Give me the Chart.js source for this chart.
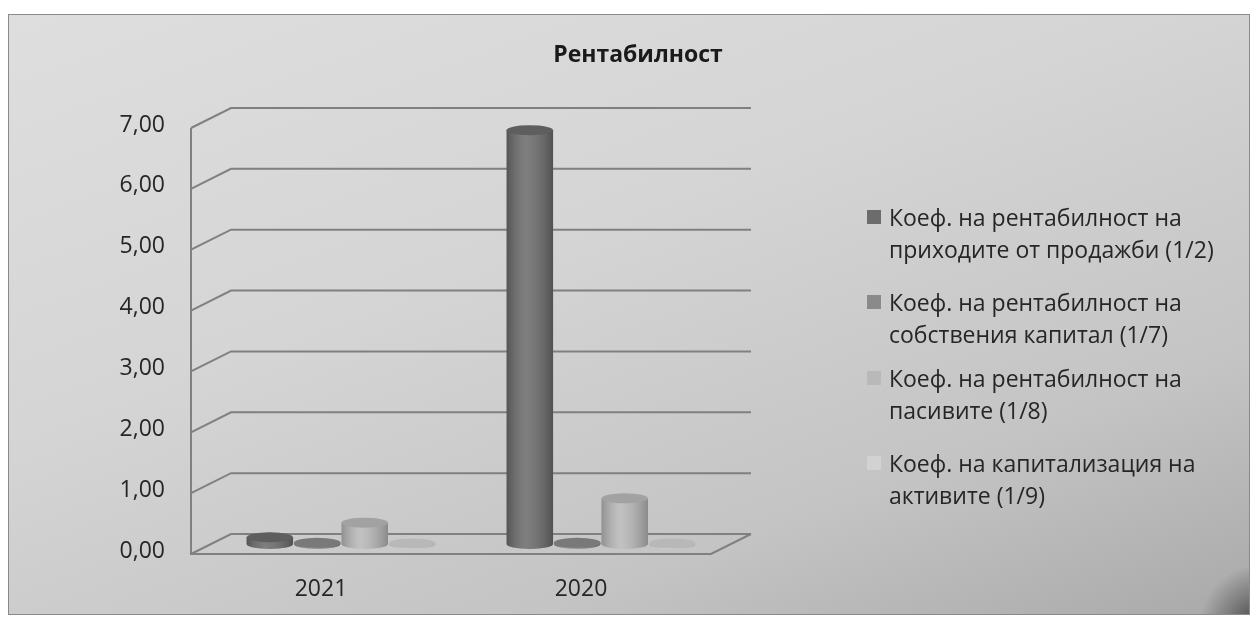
<!DOCTYPE html>
<html lang="bg">
<head>
  <meta charset="UTF-8">
  <title>Рентабилност</title>
  <script src="https://cdn.jsdelivr.net/npm/chart.js"></script>
  <style>
    html, body { margin: 0; padding: 0; background: #fff; }
    body { width: 1254px; height: 621px; position: relative; overflow: hidden; font-family: 'Open Sans', sans-serif; }
    #frame {
      position: absolute; left: 8px; top: 14px; width: 1240px; height: 599px;
      border: 1px solid #8a8a8a;
      background: linear-gradient(160deg, #dedede 0%, #d5d5d5 40%, #c4c4c4 75%, #a9a9a9 100%);
      overflow: hidden;
    }
    #frame::after {
      content: ''; position: absolute; right: -40px; bottom: -40px; width: 90px; height: 90px;
      background: radial-gradient(circle at 70% 70%, rgba(40,40,40,0.85) 0%, rgba(60,60,60,0.4) 40%, rgba(0,0,0,0) 70%);
    }
    #chart { position: absolute; left: 0; top: 0; }
    #title {
      position: absolute; left: 0; width: 1276px; top: 37px; text-align: center;
      font-weight: bold; font-size: 23px; color: #1a1a1a;
    }
    #legend { position: absolute; left: 858px; top: 186px; color: #262626; font-size: 23px; line-height: 32px; }
    .item { position: relative; padding-left: 22px; margin-bottom: 21px; }
    .item.tight { margin-bottom: 12px; }
    .box { position: absolute; left: 0; top: 9px; width: 14px; height: 14px; }
  </style>
</head>
<body>
  <div id="frame">
    <canvas id="chart" width="1240" height="599"></canvas>
    <div id="legend"></div>
  </div>
  <div id="title">Рентабилност</div>

  <script>
    const categories = ['2021', '2020'];
    const seriesNames = [
      ['Коеф. на рентабилност на', 'приходите от продажби (1/2)'],
      ['Коеф. на рентабилност на', 'собствения капитал (1/7)'],
      ['Коеф. на рентабилност на', 'пасивите (1/8)'],
      ['Коеф. на капитализация на', 'активите (1/9)']
    ];
    const salesReturn = [0.11, 6.80];
    const equityReturn = [0.02, 0.02];
    const liabilitiesReturn = [0.35, 0.75];
    const assetsCapitalization = [0.01, 0.01];
    const yTicks = [0, 1, 2, 3, 4, 5, 6, 7];

    const colors = ['#6c6c6c', '#8a8a8a', '#b9b9b9', '#d2d2d2'];
    const values = [salesReturn, equityReturn, liabilitiesReturn, assetsCapitalization];

    // 3D look: side wall, back wall grid and floor
    const DX = 20, DY = 10;
    const depthPlugin = {
      id: 'depth',
      beforeDatasetsDraw(chart) {
        const c = chart.ctx, y = chart.scales.y, a = chart.chartArea;
        const fl = a.left - DX, fr = a.right - DX, bl = a.left + DX, br = a.right + DX;
        c.save();
        c.strokeStyle = '#808080';
        c.lineWidth = 2;
        yTicks.forEach(v => {
          const py = y.getPixelForValue(v);
          c.beginPath();
          c.moveTo(fl, py + DY);
          c.lineTo(bl, py - DY);
          c.lineTo(br, py - DY);
          c.stroke();
        });
        const p0 = y.getPixelForValue(0);
        c.beginPath();
        c.moveTo(fl, y.getPixelForValue(yTicks[yTicks.length - 1]) + DY);
        c.lineTo(fl, p0 + DY);
        c.lineTo(fr, p0 + DY);
        c.lineTo(br, p0 - DY);
        c.stroke();
        c.restore();
      },
      afterDatasetsDraw(chart) {
        const c = chart.ctx;
        c.save();
        chart.data.datasets.forEach((ds, i) => {
          chart.getDatasetMeta(i).data.forEach(bar => {
            const w = bar.width, x0 = bar.x - w / 2, ry = 5;
            const g = c.createLinearGradient(x0, 0, x0 + w, 0);
            g.addColorStop(0, 'rgba(0,0,0,0.22)');
            g.addColorStop(0.4, 'rgba(255,255,255,0.12)');
            g.addColorStop(1, 'rgba(0,0,0,0.25)');
            // rounded bottom
            c.fillStyle = colors[i];
            c.beginPath();
            c.ellipse(bar.x, bar.base, w / 2, ry, 0, 0, Math.PI);
            c.fill();
            c.fillStyle = g;
            c.fill();
            c.fillRect(x0, bar.y, w, bar.base - bar.y);
            // top cap
            c.fillStyle = colors[i];
            c.beginPath();
            c.ellipse(bar.x, bar.y, w / 2, ry, 0, 0, Math.PI * 2);
            c.fill();
            c.fillStyle = 'rgba(0,0,0,0.12)';
            c.fill();
          });
        });
        c.restore();
      }
    };

    new Chart(document.getElementById('chart'), {
      type: 'bar',
      data: {
        labels: categories,
        datasets: seriesNames.map((n, i) => ({
          label: n.join(' '),
          data: values[i],
          backgroundColor: colors[i],
          borderWidth: 0,
          categoryPercentage: 0.73,
          barPercentage: 0.98
        }))
      },
      options: {
        responsive: false,
        animation: false,
        layout: { padding: { left: 0, top: 103, right: 518, bottom: 0 } },
        plugins: { legend: { display: false }, title: { display: false }, tooltip: { enabled: false } },
        scales: {
          x: {
            grid: { display: false, drawTicks: false },
            border: { display: false },
            ticks: { color: '#262626', font: { family: 'Open Sans', size: 23 }, padding: 32, labelOffset: -20 },
            afterFit: s => { s.height = 70; }
          },
          y: {
            min: 0, max: 7,
            grid: { display: false, drawTicks: false },
            border: { display: false },
            ticks: {
              stepSize: 1, padding: 46, labelOffset: 7, color: '#262626',
              font: { family: 'Open Sans', size: 23 },
              callback: v => v.toFixed(2).replace('.', ',')
            },
            afterFit: s => { s.width = 202; }
          }
        }
      },
      plugins: [depthPlugin]
    });

    const legend = document.getElementById('legend');
    seriesNames.forEach((n, i) => {
      const d = document.createElement('div');
      d.className = 'item' + (i === 1 ? ' tight' : '');
      d.innerHTML = '<span class="box" style="background:' + colors[i] + '"></span>' + n.join('<br>');
      legend.appendChild(d);
    });
  </script>
</body>
</html>
